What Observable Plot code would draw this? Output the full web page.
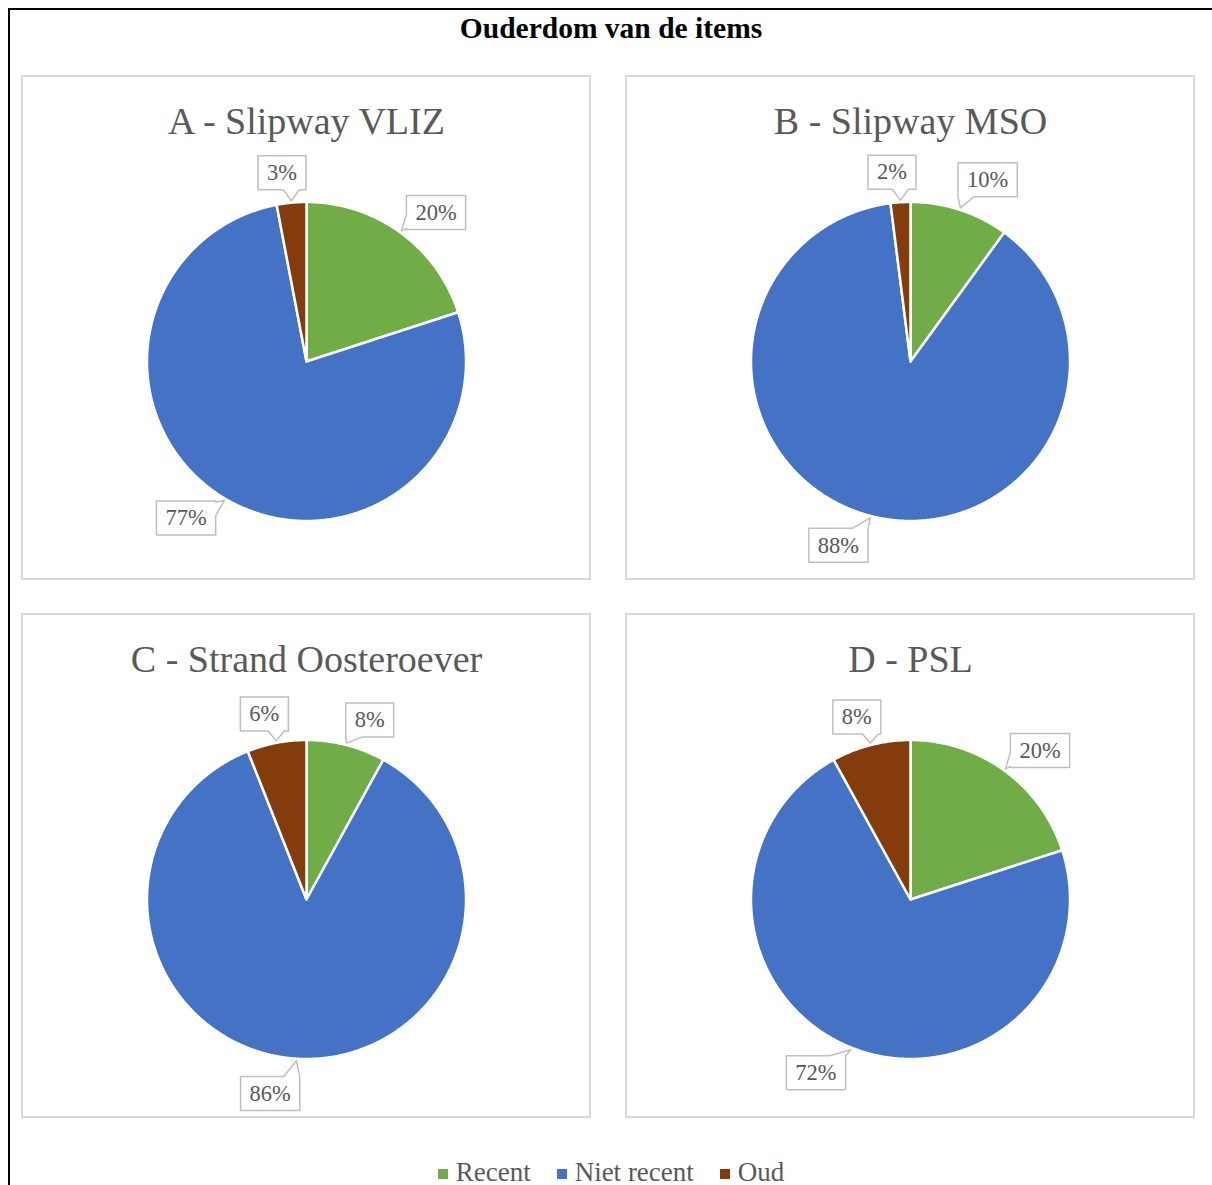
<!DOCTYPE html>
<html><head><meta charset="utf-8">
<script src="https://cdn.jsdelivr.net/npm/d3@7"></script>
<script src="https://cdn.jsdelivr.net/npm/@observablehq/plot@0.6"></script>
<style>
body{margin:0;background:#fff;width:1212px;height:1185px;overflow:hidden;position:relative;font-family:'Liberation Serif','Times New Roman',serif;}
#frame{position:absolute;left:8px;top:8px;width:1300px;height:1300px;border-left:2px solid #000;border-top:2px solid #000;}
#title{position:absolute;left:10px;width:1202px;top:10px;height:36px;line-height:36px;text-align:center;font-weight:bold;font-size:29.5px;color:#000;}
.panel{position:absolute;width:570px;height:505px;border:2px solid #d9d9d9;box-sizing:border-box;background:#fff;}
.panel svg{position:absolute;left:-2px;top:-2px;overflow:visible;max-width:none !important;width:570px !important;height:505px !important;}
#legend{position:absolute;left:10px;width:1202px;top:1158px;height:28px;display:flex;justify-content:center;align-items:center;font-size:27px;line-height:28px;color:#595959;}
#legend .item{display:flex;align-items:center;margin:0 13px;}
#legend .sw{width:10px;height:10px;margin-right:8px;transform:translateY(2px);}
</style></head>
<body>
<div id="frame"></div>
<div id="title">Ouderdom van de items</div>
<div id="panels"></div>
<div id="legend"></div>
<script>
// ---- data ----
const categories = ["Recent", "Niet recent", "Oud"];
const colors = ["#70AD47", "#4472C4", "#843C0C"];
const panelTitles = ["A - Slipway VLIZ", "B - Slipway MSO", "C - Strand Oosteroever", "D - PSL"];
const recent = [20, 10, 8, 20];
const nietRecent = [77, 88, 86, 72];
const oud = [3, 2, 6, 8];

// ---- layout ----
const panelPos = [[21, 75], [625, 75], [21, 613], [625, 613]];
const W = 570, H = 505, CX = 285, CY = 286, R = 159.5;
const labelShiftDeg = [5, 7, -2]; // clockwise callout offset per category
const FONT = "'Liberation Serif', 'Times New Roman', serif";

const canvas = document.createElement("canvas");
const ctx = canvas.getContext("2d");
ctx.font = "22.5px 'Liberation Serif'";

function slicePoints(arcs, p) {
  const pts = [];
  arcs.forEach((a, i) => {
    const key = p + "-" + i;
    pts.push({x: 0, y: 0, key, cat: categories[i]});
    const n = Math.max(2, Math.ceil((a.endAngle - a.startAngle) / (Math.PI / 360)));
    for (let k = 0; k <= n; k++) {
      const t = a.startAngle + (a.endAngle - a.startAngle) * k / n;
      pts.push({x: Math.sin(t), y: Math.cos(t), key, cat: categories[i]});
    }
  });
  return pts;
}

function callout(id, mid, shiftDeg, text) {
  const tw = ctx.measureText(text).width;
  const w = tw + 18, h = 34, hw = w / 2, hh = h / 2;
  const la = mid + shiftDeg * Math.PI / 180;
  const rl = R + 0.64 * w;
  const cx = rl * Math.sin(la), cy = -rl * Math.cos(la); // px, y down
  const tr = R + 2;
  const tx = tr * Math.sin(mid) - cx, ty = -tr * Math.cos(mid) - cy; // tip rel box center
  const clamp = (v, lo, hi) => Math.max(lo, Math.min(hi, v));
  let poly;
  if (Math.abs(ty) / hh > Math.abs(tx) / hw) {
    const p = clamp(tx, -hw + 8, hw - 8);
    const b0 = clamp(p - 8, -hw, hw), b1 = clamp(p + 8, -hw, hw);
    if (ty < 0) poly = [[-hw, -hh], [b0, -hh], [tx, ty], [b1, -hh], [hw, -hh], [hw, hh], [-hw, hh]];
    else poly = [[-hw, -hh], [hw, -hh], [hw, hh], [b1, hh], [tx, ty], [b0, hh], [-hw, hh]];
  } else {
    const p = clamp(ty, -hh + 8, hh - 8);
    const b0 = clamp(p - 7, -hh, hh), b1 = clamp(p + 7, -hh, hh);
    if (tx > 0) poly = [[-hw, -hh], [hw, -hh], [hw, b0], [tx, ty], [hw, b1], [hw, hh], [-hw, hh]];
    else poly = [[-hw, -hh], [hw, -hh], [hw, hh], [-hw, hh], [-hw, b1], [tx, ty], [-hw, b0]];
  }
  return {
    pts: poly.map(([px, py]) => ({x: (cx + px) / R, y: -(cy + py) / R, id})),
    label: {x: cx / R, y: -cy / R, text}
  };
}

const pie = d3.pie().sort(null).startAngle(0).endAngle(2 * Math.PI);
const container = document.getElementById("panels");

panelTitles.forEach((title, p) => {
  const values = [recent[p], nietRecent[p], oud[p]];
  const total = d3.sum(values);
  const arcs = pie(values);
  const pts = slicePoints(arcs, p);
  const calloutPts = [], labels = [];
  arcs.forEach((a, i) => {
    const mid = (a.startAngle + a.endAngle) / 2;
    const c = callout(p + "-" + i, mid, labelShiftDeg[i], Math.round(values[i] / total * 100) + "%");
    calloutPts.push(...c.pts);
    labels.push(c.label);
  });

  const svg = Plot.plot({
    width: W, height: H, margin: 0,
    x: {domain: [-CX / R, (W - CX) / R], axis: null},
    y: {domain: [-(H - CY) / R, CY / R], axis: null},
    color: {domain: categories, range: colors},
    style: {fontFamily: FONT, background: "transparent", overflow: "visible"},
    marks: [
      Plot.line(pts, {x: "x", y: "y", z: "key", fill: "cat", stroke: "white", strokeWidth: 2.5, strokeLinejoin: "round", curve: "linear-closed"}),
      Plot.line(calloutPts, {x: "x", y: "y", z: "id", fill: "white", stroke: "#bfbfbf", strokeWidth: 1.5, curve: "linear-closed"}),
      Plot.text(labels, {x: "x", y: "y", text: "text", fontSize: 22.5, fill: "#595959", fontFamily: FONT}),
      Plot.text([title], {frameAnchor: "top", lineAnchor: "middle", dy: 46, text: d => d, fontSize: 38, fill: "#595959", fontFamily: FONT})
    ]
  });
  const div = document.createElement("div");
  div.className = "panel";
  div.style.left = panelPos[p][0] + "px";
  div.style.top = panelPos[p][1] + "px";
  div.appendChild(svg);
  container.appendChild(div);
});

const legend = document.getElementById("legend");
categories.forEach((c, i) => {
  const item = document.createElement("div");
  item.className = "item";
  const sw = document.createElement("span");
  sw.className = "sw";
  sw.style.background = colors[i];
  item.appendChild(sw);
  item.appendChild(document.createTextNode(c));
  legend.appendChild(item);
});
</script>
</body></html>
